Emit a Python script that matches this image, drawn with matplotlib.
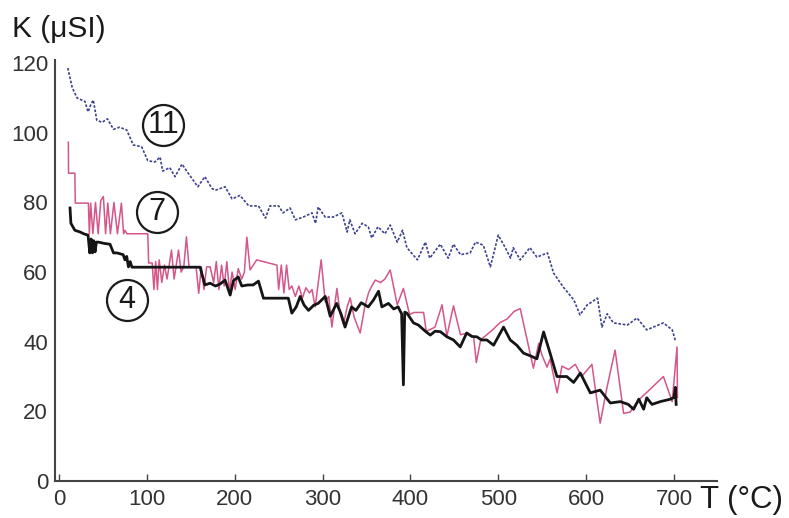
import matplotlib
matplotlib.use("Agg")
import matplotlib.pyplot as plt

plt.rcParams['font.family'] = ['Liberation Sans', 'DejaVu Sans']

# Series 11 (blue dotted)
T11 = [10, 15, 20.5, 25, 29.6, 33, 36, 39, 43, 49, 55, 62, 69, 77, 84.5, 94, 101, 109, 115, 118,
       126, 132, 140, 147, 158, 166, 174, 178, 189, 197, 206, 216, 227, 235, 240, 250, 255, 263,
       269, 278, 288, 292, 295, 303, 312, 322, 328, 331, 337, 345, 352, 356, 363, 371, 377, 385,
       391, 396, 408, 417, 422, 434, 443, 449, 457, 468, 474, 483, 491, 500, 508, 514, 517, 525,
       536, 544, 556, 563, 574, 586, 593, 601, 613, 618, 624, 631, 647, 658, 669, 688, 698, 702]
K11 = [118.6, 113, 110, 109.5, 109, 106, 108, 109.4, 103.6, 103, 104, 101, 101.6, 100.8, 96.5, 96,
       92, 91.6, 93, 89, 90, 87.4, 91, 88.4, 84.5, 87.4, 84, 83.5, 84.5, 81, 82, 79, 79, 75.5, 79,
       79, 77, 78.4, 75, 75.8, 77, 74, 78.7, 75.8, 75.8, 77, 71.5, 75, 71, 74, 73, 69.8, 73, 71,
       73.5, 68.6, 72, 67, 63.5, 68.6, 64, 68, 64, 68, 65, 65.5, 68.6, 67.7, 61.5, 70.6, 67, 64,
       67, 63.5, 67, 64.3, 65.5, 59.7, 55.7, 52, 47.7, 50.5, 52.5, 44.2, 48, 45.4, 44.8, 46.8,
       43.4, 45.4, 43.4, 40]

# Series 7 (pink)
T7 = [10.6, 10.8, 18, 18.5, 33.4, 34.5, 36, 38.5, 41.5, 44.5, 47.5, 50.5, 53, 55.5, 58.5, 62.5,
      66.5, 71, 73.5, 75, 77.2, 101, 102, 106, 108, 110,
      112, 114, 117, 120, 123, 128, 131, 134, 136, 139, 142, 145, 148, 153, 156, 159, 162, 165,
      168, 172, 176, 179, 182, 185, 188, 191, 194, 197, 200.5, 204, 208, 211, 213.8, 217.5, 225,
      248, 250, 253, 256, 259, 262, 265, 269, 273, 277, 281, 285, 288, 291.6, 298.4, 303, 307,
      310.6, 316.3, 320, 323.8, 328, 331.4, 336, 342.8, 348, 352.3, 356, 360, 366, 371, 377, 385,
      392, 399, 404, 415, 418, 422.6, 428, 436, 441.5, 449, 457, 465, 472, 475, 480, 487, 494,
      502, 510, 518, 525, 540, 546, 550, 555.5, 559, 567, 572.5, 580, 587.7, 595, 606.6, 616,
      623.8, 633, 642.7, 650, 659.5, 671, 688, 698, 703.5, 704]
K7 = [97.3, 88.4, 88.4, 79.8, 79.8, 71, 79.8, 71, 80, 71, 80.5, 81.7, 71, 79.8, 71, 80, 71, 79.8,
      71, 72, 71, 71, 62.6, 62.6, 55, 63, 55, 63.5, 57, 62, 58,
      66.3, 58, 63, 66.3, 60, 61.5, 70.1, 61.5, 61.5, 61.5, 53.9, 61.5, 55, 61.5, 61.5, 57, 63,
      55, 62, 56, 63, 54.5, 60, 55, 61, 58, 60, 70, 60.6, 63.5, 62, 55, 62, 54, 62, 55, 56, 53,
      56, 52.5, 55.5, 54, 55, 50, 63.5, 51.5, 53, 44.2, 55.3, 48, 45, 50, 52.6, 47, 42.5, 50, 54,
      56, 57.7, 57, 58, 60.6, 50.6, 55.3, 47.8, 48.4, 48.4, 43, 43.5, 44.2, 50.6, 41.6, 50.3, 42,
      42.5, 41.4, 34, 40.6, 42, 43.5, 45.5, 46.5, 48.7, 49.5, 32.4, 39.5, 36, 32.7, 35, 25.3, 33,
      32, 33.5, 30, 33.5, 16.6, 26.9, 37.6, 19.4, 19.8, 23.2, 25.9, 30, 22.8, 38.5, 24]

# Series 4 (black)
T4 = [12.5, 13.5, 18, 24, 28, 33, 35, 36.5, 38, 39.5, 41, 42.5, 44.8, 52, 58, 62, 66, 73, 75, 77,
      79, 81, 83, 120, 160.6, 166, 172, 178, 183, 189, 194.8, 198.5, 204, 208, 215, 221, 227,
      232.7, 261, 265, 270, 274.5, 279, 284, 290, 295, 303, 308.7, 316, 321, 325.6, 333, 338,
      344, 352, 358, 363.7, 367.5, 375, 381, 386, 390, 392, 393.5, 396, 403.5, 409, 417, 422.6,
      428, 434, 441.6, 449, 456.7, 464, 470, 475.7, 481, 487, 494.7, 506, 513.6, 521, 528.8,
      536, 544, 551.6, 559, 566.8, 578, 585.8, 593.4, 604.8, 616, 627.6, 639, 648, 654, 660,
      665.5, 669, 675, 684.5, 696, 700, 701.6, 702.5]
K4 = [78.4, 74, 72, 71.5, 71, 70.6, 65.5, 69.5, 65.5, 69, 65.8, 68.6, 68.6, 68.2, 68, 65.5, 65.5,
      65, 63.5, 64.5, 61.5, 63, 61.4, 61.4, 61.4, 56.3, 56.8, 56, 56.5, 57.7, 53.4, 57.5, 58.6,
      56, 56.3, 56.3, 57.4, 52.5, 52.5, 48.2, 50, 53, 50.5, 49, 50.5, 51, 53, 47.3, 51, 48, 44.2,
      50, 49, 51.2, 50, 52, 54.5, 50, 51, 49.4, 50, 48, 27.6, 48.5, 48.2, 45.4, 44.8, 43, 41.9,
      43, 42.9, 41.4, 40.5, 38.5, 42.5, 41.5, 41.4, 40.5, 40.5, 39, 44.2, 40.5, 39, 36.7, 36,
      35.1, 42.8, 36.7, 30, 30, 28.3, 31, 25.3, 26.1, 22.4, 22.8, 22, 20.6, 23.5, 20.6, 23.9, 22,
      22.8, 23.5, 24, 26.9, 22]

x_ticks = [0, 100, 200, 300, 400, 500, 600, 700]
y_ticks = [0, 20, 40, 60, 80, 100, 120]

label_texts = ['11', '7', '4']
label_T = [118.5, 111.6, 77.4]
label_K = [102.2, 77.2, 52.0]

W, H = 789, 518
fig = plt.figure(figsize=(W / 100, H / 100), dpi=100)
ax = fig.add_axes([55 / W, 37 / H, (717 - 55) / W, (481 - 60) / H])

ax.plot(T11, K11, color='#3d418f', lw=1.2, linestyle=(0, (1.6, 1.0)))
ax.plot(T7, K7, color='#d4568a', lw=1.1)
ax.plot(T4, K4, color='#151515', lw=2.0)

for txt, tx, ky in zip(label_texts, label_T, label_K):
    ax.plot([tx], [ky], marker='o', markersize=29.5, markerfacecolor='none',
            markeredgecolor='#1a1a1a', markeredgewidth=1.6, linestyle='none')
    ax.text(tx, ky, txt, ha='center', va='center', fontsize=22, color='#1a1a1a')

ax.set_xlim(-4.6, 749)
ax.set_ylim(0, 120.9)
ax.set_xticks(x_ticks)
ax.set_yticks(y_ticks)
for s in ['top', 'right']:
    ax.spines[s].set_visible(False)
for s in ['left', 'bottom']:
    ax.spines[s].set_color('#444444')
    ax.spines[s].set_linewidth(1.5)
ax.tick_params(axis='x', direction='in', length=5, width=1, color='#444444',
               labelsize=16, labelcolor='#333333', pad=6)
ax.tick_params(axis='y', length=0, labelsize=16, labelcolor='#333333', pad=5)

fig.text(12 / W, 1 - 37 / H, 'K (μSI)', fontsize=21.5, color='#1a1a1a', va='baseline', ha='left')
fig.text(700 / W, 1 - 508 / H, 'T (°C)', fontsize=22.5, color='#1a1a1a', va='baseline', ha='left')

fig.savefig('out.png', dpi=100)
